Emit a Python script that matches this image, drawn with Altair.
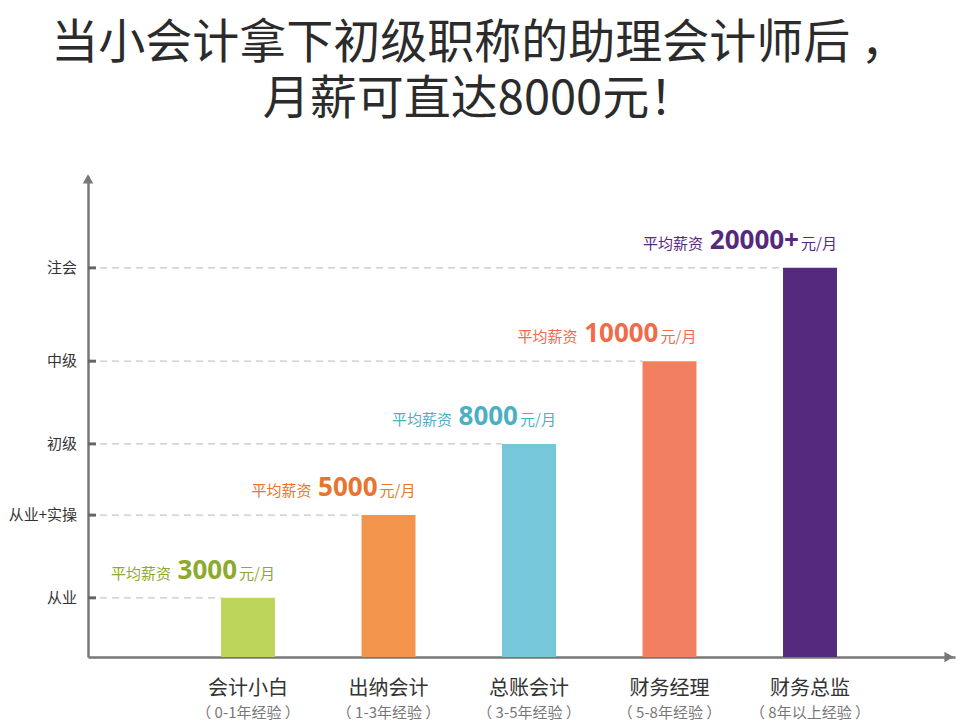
import altair as alt
import pandas as pd

title_lines = ["当小会计拿下初级职称的助理会计师后 ，", "月薪可直达8000元！"]
categories = ["会计小白", "出纳会计", "总账会计", "财务经理", "财务总监"]
experience = ["（ 0-1年经验 ）", "（ 1-3年经验 ）", "（ 3-5年经验 ）", "（ 5-8年经验 ）", "（ 8年以上经验 ）"]
levels = ["从业", "从业+实操", "初级", "中级", "注会"]
level_values = [12.3, 29.5, 44.3, 61.5, 80.9]
salary_numbers = ["3000", "5000", "8000", "10000", "20000+"]
prefix_text = "平均薪资"
unit_text = "元/月"
bar_colors = ["#BDD55B", "#F2944B", "#75C7D9", "#F37F62", "#55297E"]
label_colors = ["#8DAA2C", "#E8742D", "#4DAFC4", "#F06B49", "#55297E"]
positions = [1, 2, 3, 4, 5]

X_MIN, X_MAX = -0.139, 6.032
Y_MAX = 100
HALF = 0.192
PX = 140.5  # pixels per x unit

CJK = "Noto Sans CJK SC"

df = pd.DataFrame({
    "pos": positions,
    "cat": categories,
    "exp": experience,
    "level": levels,
    "level_value": level_values,
    "num": salary_numbers,
    "bar_color": bar_colors,
    "label_color": label_colors,
})
df["left"] = df["pos"] - HALF
df["right"] = df["pos"] + HALF
df["axis_x"] = X_MIN
df["tick_end"] = X_MIN + 8 / PX
df["dash_start"] = X_MIN + 12 / PX
df["num_x"] = df["right"] - 38 / PX
df["prefix_x"] = df["num_x"] - (df["num"].str.len() * 15 + 6) / PX
df["zero"] = 0
df["prefix"] = prefix_text
df["unit"] = unit_text

xs = alt.Scale(domain=[X_MIN, X_MAX], nice=False, zero=False)
ys = alt.Scale(domain=[0, Y_MAX], nice=False, zero=False)
axis_style = dict(title=None, labels=False, ticks=False, grid=False,
                  domainColor="#777777", domainWidth=2.5)

base = alt.Chart(df)

bars = base.mark_bar().encode(
    x=alt.X("left:Q", scale=xs, axis=alt.Axis(**axis_style)),
    x2="right:Q",
    y=alt.Y("level_value:Q", scale=ys, axis=alt.Axis(**axis_style)),
    y2="zero:Q",
    color=alt.Color("bar_color:N", scale=None),
)

dashes = base.mark_rule(color="#C8C8C8", strokeWidth=1.3, strokeDash=[7, 5]).encode(
    x="dash_start:Q", x2="left:Q", y="level_value:Q"
)

ticks = base.mark_rule(color="#666666", strokeWidth=3).encode(
    x="axis_x:Q", x2="tick_end:Q", y="level_value:Q"
)

ylabels = base.mark_text(align="right", baseline="middle", dx=-11, fontSize=15,
                         font=CJK, color="#333333").encode(
    x="axis_x:Q", y="level_value:Q", text="level:N"
)

unit = base.mark_text(align="right", baseline="alphabetic", dy=-19, fontSize=15,
                      font=CJK).encode(
    x="right:Q", y="level_value:Q", text="unit:N",
    color=alt.Color("label_color:N", scale=None),
)
num = base.mark_text(align="right", baseline="alphabetic", dy=-19, fontSize=26,
                     fontWeight="bold", font="Open Sans").encode(
    x="num_x:Q", y="level_value:Q", text="num:N",
    color=alt.Color("label_color:N", scale=None),
)
prefix = base.mark_text(align="right", baseline="alphabetic", dy=-19, fontSize=15,
                        font=CJK).encode(
    x="prefix_x:Q", y="level_value:Q", text="prefix:N",
    color=alt.Color("label_color:N", scale=None),
)

cat_labels = base.mark_text(baseline="middle", dy=32, fontSize=20, font=CJK,
                            color="#333333").encode(
    x="pos:Q", y="zero:Q", text="cat:N"
)
exp_labels = base.mark_text(baseline="middle", dy=56, fontSize=15, font=CJK,
                            color="#777777").encode(
    x="pos:Q", y="zero:Q", text="exp:N"
)

arrow_df = pd.DataFrame({
    "x": [X_MIN, X_MAX - 6 / PX],
    "y": [Y_MAX - 0.6, 0],
    "shape": ["triangle-up", "triangle-right"],
})
arrows = alt.Chart(arrow_df).mark_point(filled=True, size=110, color="#777777",
                                        opacity=1).encode(
    x="x:Q", y="y:Q", shape=alt.Shape("shape:N", scale=None)
)

chart = alt.layer(
    dashes, ticks, bars, ylabels, unit, num, prefix, cat_labels, exp_labels, arrows
).properties(
    width=867,
    height=481,
    autosize=alt.AutoSizeParams(type="none"),
    padding={"left": 80, "top": 168, "right": 11, "bottom": 66},
    title=alt.TitleParams(
        text=title_lines, fontSize=47, font=CJK, fontWeight="normal",
        color="#2B2B2B", anchor="middle", dx=-42, offset=50, lineHeight=56,
    ),
).configure_view(stroke=None)

chart.save("out.html", embed_options={"renderer": "svg", "actions": False})
